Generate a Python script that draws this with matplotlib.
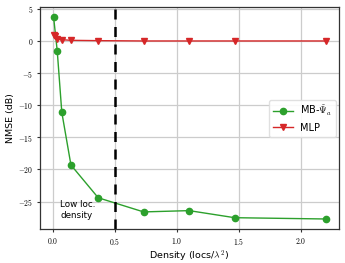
import matplotlib
matplotlib.use("Agg")
import matplotlib.pyplot as plt
from matplotlib.ticker import FuncFormatter

plt.rcParams['mathtext.fontset'] = 'cm'
plt.rcParams['font.family'] = ['DejaVu Sans']

# data
density_mb = [0.0073, 0.0367, 0.0733, 0.147, 0.367, 0.733, 1.1, 1.467, 2.2]
nmse_mb = [3.7, -1.6, -11.1, -19.3, -24.4, -26.6, -26.4, -27.5, -27.7]

density_mlp = [0.0073, 0.018, 0.0367, 0.0733, 0.147, 0.367, 0.733, 1.1, 1.467, 2.2]
nmse_mlp = [1.0, 0.7, 0.3, 0.2, 0.1, 0.05, 0.0, 0.0, 0.0, 0.0]

low_density_limit = 0.5

fig, ax = plt.subplots(figsize=(3.45, 2.63), dpi=100)

ax.plot(density_mb, nmse_mb, color='tab:green', marker='o', markersize=4.5,
        linewidth=1.0, label=r'MB-$\tilde{\mathbf{\Psi}}_a$')
ax.plot(density_mlp, nmse_mlp, color='tab:red', marker='v', markersize=4.5,
        linewidth=1.0, label='MLP')
ax.axvline(low_density_limit, color='black', linestyle=(0, (4, 3)), linewidth=1.8)

ax.text(0.06, -26.3, 'Low loc.\ndensity', fontsize=6.3, va='center', ha='left')

ax.set_xlabel(r'Density (locs/$\lambda^2$)', fontsize=6.8, labelpad=1)
ax.set_ylabel('NMSE (dB)', fontsize=6.8, labelpad=2)
ax.set_xticks([0.0, 0.5, 1.0, 1.5, 2.0])
ax.set_yticks([5, 0, -5, -10, -15, -20, -25])
ax.xaxis.set_major_formatter(FuncFormatter(lambda v, p: r'$%.1f$' % v))
ax.yaxis.set_major_formatter(FuncFormatter(lambda v, p: r'$%d$' % v))
ax.tick_params(labelsize=5.5, length=2.5, width=0.8, color='#333333', pad=2.5)
ax.grid(True, color='#cccccc', linewidth=0.9)
ax.set_axisbelow(True)
for s in ax.spines.values():
    s.set_color('#333333')
    s.set_linewidth(0.9)

ax.legend(loc='center right', fontsize=7, bbox_to_anchor=(1.0, 0.5),
          borderaxespad=0.3, framealpha=0.9, edgecolor='#dddddd')

fig.subplots_adjust(left=0.116, right=0.983, bottom=0.129, top=0.973)
fig.savefig('out.png', dpi=100)
